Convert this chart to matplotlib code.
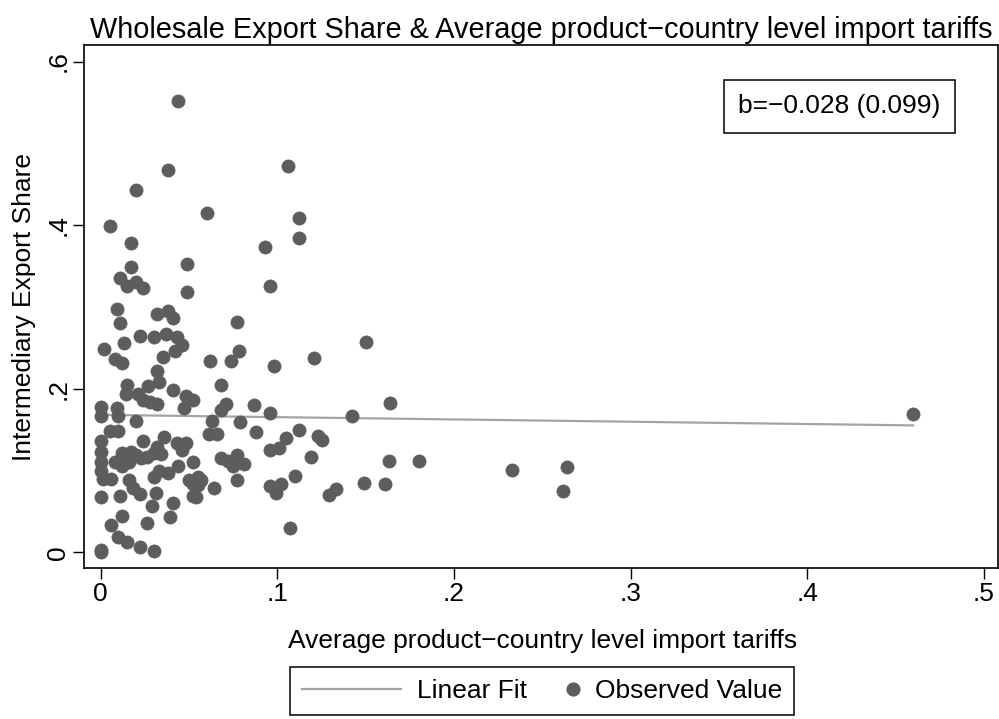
import matplotlib
matplotlib.use("Agg")
import matplotlib.pyplot as plt
from matplotlib.lines import Line2D
from matplotlib.legend_handler import HandlerBase
import numpy as np

plt.rcParams['font.family'] = ['Liberation Sans', 'DejaVu Sans']

# average product-country level import tariff (x) and intermediary export share (y)
tariff = [
    0.044, 0.038, 0.106, 0.020, 0.005, 0.060, 0.112, 0.112, 0.017, 0.017,
    0.049, 0.093, 0.011, 0.015, 0.020, 0.024, 0.049, 0.096, 0.009, 0.032,
    0.038, 0.041, 0.011, 0.077, 0.022, 0.030, 0.037, 0.043, 0.046, 0.042,
    0.013, 0.002, 0.008, 0.012, 0.035, 0.062, 0.074, 0.078, 0.098, 0.121,
    0.032, 0.015, 0.027, 0.033, 0.041, 0.014, 0.021, 0.024, 0.028, 0.032,
    0.048, 0.052, 0.068, 0.071, 0.068, 0.087, 0.000, 0.009, 0.047, 0.096,
    0.150, 0.164, 0.142, 0.000, 0.010, 0.020, 0.063, 0.079, 0.088, 0.061,
    0.066, 0.005, 0.010, 0.112, 0.105, 0.101, 0.096, 0.123, 0.125, 0.119,
    0.163, 0.180, 0.233, 0.264, 0.262, 0.460, 0.110, 0.102, 0.099, 0.096,
    0.149, 0.161, 0.129, 0.133, 0.107, 0.000, 0.000, 0.000, 0.000, 0.001,
    0.000, 0.000, 0.000, 0.012, 0.017, 0.020, 0.023, 0.026, 0.030, 0.008,
    0.012, 0.016, 0.024, 0.036, 0.043, 0.048, 0.046, 0.032, 0.034, 0.052,
    0.044, 0.038, 0.033, 0.030, 0.016, 0.006, 0.050, 0.055, 0.057, 0.052,
    0.055, 0.052, 0.054, 0.068, 0.072, 0.075, 0.077, 0.081, 0.077, 0.064,
    0.011, 0.018, 0.022, 0.031, 0.029, 0.041, 0.012, 0.006, 0.026, 0.039,
    0.010, 0.015, 0.022, 0.030,
]
export_share = [
    0.552, 0.467, 0.472, 0.443, 0.399, 0.415, 0.409, 0.384, 0.378, 0.349,
    0.352, 0.373, 0.335, 0.326, 0.330, 0.323, 0.318, 0.326, 0.297, 0.291,
    0.295, 0.287, 0.280, 0.281, 0.264, 0.263, 0.267, 0.263, 0.254, 0.246,
    0.256, 0.249, 0.236, 0.231, 0.239, 0.234, 0.234, 0.246, 0.228, 0.238,
    0.222, 0.204, 0.203, 0.208, 0.198, 0.193, 0.193, 0.186, 0.184, 0.181,
    0.191, 0.186, 0.204, 0.181, 0.174, 0.180, 0.178, 0.176, 0.176, 0.170,
    0.257, 0.183, 0.166, 0.167, 0.167, 0.160, 0.161, 0.159, 0.147, 0.145,
    0.145, 0.148, 0.148, 0.149, 0.140, 0.128, 0.125, 0.142, 0.137, 0.117,
    0.112, 0.111, 0.101, 0.104, 0.075, 0.169, 0.093, 0.084, 0.073, 0.081,
    0.085, 0.083, 0.070, 0.077, 0.030, 0.136, 0.123, 0.110, 0.099, 0.089,
    0.068, 0.003, 0.000, 0.121, 0.123, 0.119, 0.115, 0.117, 0.121, 0.110,
    0.105, 0.110, 0.136, 0.141, 0.134, 0.133, 0.125, 0.129, 0.120, 0.110,
    0.105, 0.097, 0.099, 0.092, 0.088, 0.089, 0.088, 0.092, 0.088, 0.084,
    0.082, 0.069, 0.068, 0.115, 0.111, 0.105, 0.119, 0.108, 0.088, 0.078,
    0.069, 0.078, 0.071, 0.072, 0.056, 0.060, 0.044, 0.033, 0.036, 0.043,
    0.019, 0.012, 0.006, 0.002,
]

# linear fit as reported in the chart
fit_intercept = 0.168
fit_slope = -0.028
fit_se = 0.099

x_ticks = [0, 0.1, 0.2, 0.3, 0.4, 0.5]
x_tick_labels = ['0', '.1', '.2', '.3', '.4', '.5']
y_ticks = [0, 0.2, 0.4, 0.6]
y_tick_labels = ['0', '.2', '.4', '.6']

dot_color = '#5d5d5d'
line_color = '#a3a3a3'
fs = 19


# legend key for the dots: marker sits at the right end of the key area
class DotAtRight(HandlerBase):
    def create_artists(self, legend, orig_handle, xdescent, ydescent,
                       width, height, fontsize, trans):
        dot = Line2D([width - xdescent - 4], [(height - ydescent) / 2],
                     marker='o', ls='none', color=dot_color, markersize=9.2)
        dot.set_transform(trans)
        return [dot]


fig = plt.figure(figsize=(9.99, 7.19), dpi=100)
ax = fig.add_axes([0.0841, 0.2096, 0.9149, 0.7278])

xs = np.array([min(tariff), max(tariff)])
ax.plot(xs, fit_intercept + fit_slope * xs, color=line_color, lw=1.6, zorder=2)
dots = ax.scatter(tariff, export_share, s=90, color=dot_color, edgecolors=dot_color,
                  linewidths=0.5, zorder=3)

ax.set_xlim(-0.0095, 0.5081)
ax.set_ylim(-0.0196, 0.6202)
ax.set_xticks(x_ticks)
ax.set_xticklabels(x_tick_labels, fontsize=fs)
ax.set_yticks(y_ticks)
ax.set_yticklabels(y_tick_labels, fontsize=fs, rotation=90, va='center')
ax.tick_params(direction='out', length=8, width=1, pad=2)
for sp in ax.spines.values():
    sp.set_linewidth(1.2)

ax.set_xlabel('Average product\u2212country level import tariffs', fontsize=fs)
ax.xaxis.set_label_coords(0.502, -0.116)
ax.set_ylabel('Intermediary Export Share', fontsize=fs)
ax.yaxis.set_label_coords(-0.053, 0.5)
ax.set_title('Wholesale Export Share & Average product\u2212country level import tariffs',
             fontsize=20.8, pad=5)

ax.text(0.8266, 0.8825, 'b=\u22120.028 (0.099)', transform=ax.transAxes, fontsize=fs,
        ha='center', va='center',
        bbox=dict(boxstyle='square,pad=0.55', facecolor='white', edgecolor='black', lw=1.1))

fit_key = Line2D([], [], color=line_color, lw=1.6)
fig.legend([fit_key, dots], ['Linear Fit', 'Observed Value'], loc='center',
           bbox_to_anchor=(542 / 999, 1 - 691 / 719), ncol=2, fontsize=fs,
           frameon=True, fancybox=False, edgecolor='black', framealpha=1,
           handlelength=3.75, handletextpad=0.64, columnspacing=-1.82,
           borderpad=0.45, handler_map={type(dots): DotAtRight()})
fig.legends[0].get_frame().set_linewidth(1.1)

fig.savefig('out.png', dpi=100)
